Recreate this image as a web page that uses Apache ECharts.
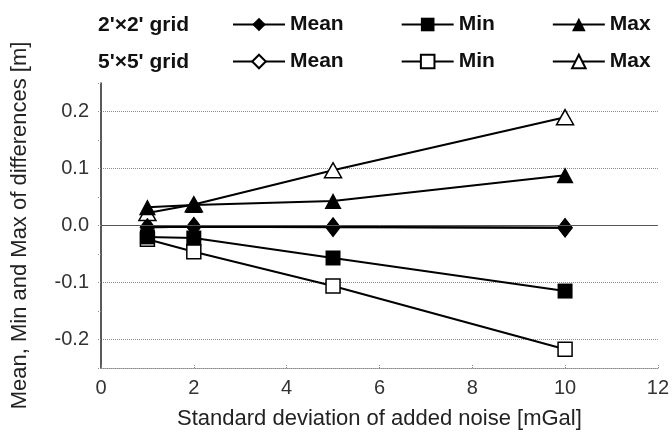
<!DOCTYPE html>
<html>
<head>
<meta charset="utf-8">
<script src="https://cdn.jsdelivr.net/npm/echarts@6/dist/echarts.min.js"></script>
<style>
  html, body { margin: 0; padding: 0; background: #fff; }
  #chart { width: 672px; height: 435px; }
</style>
</head>
<body>
<div id="chart"></div>
<script>
// Noise levels (mGal) at which the differences were evaluated
const noiseLevels = [1, 2, 5, 10];

// 2'x2' grid: mean, min and max of differences [m]
const mean2 = [-0.003, -0.002, -0.002, -0.004];
const min2  = [-0.020, -0.022, -0.057, -0.115];
const max2  = [0.032, 0.036, 0.043, 0.088];

// 5'x5' grid: mean, min and max of differences [m]
const mean5 = [-0.003, -0.002, -0.003, -0.004];
const min5  = [-0.024, -0.046, -0.106, -0.217];
const max5  = [0.022, 0.037, 0.097, 0.190];

// Axis ticks
const xTicks = [0, 2, 4, 6, 8, 10, 12];
const yLabelled = [-0.2, -0.1, 0.0, 0.1, 0.2];
const yGridlines = [-0.25, -0.2, -0.1, 0.1, 0.2];

const FONT = '"Liberation Sans", Arial, Helvetica, sans-serif';

function pairs(ys) {
  return noiseLevels.map((x, i) => [x, ys[i]]);
}

function makeSeries(name, ys, symbol, size, filled) {
  return {
    name: name,
    type: 'line',
    data: pairs(ys),
    symbol: symbol,
    symbolSize: size,
    showAllSymbol: true,
    lineStyle: { color: '#000', width: 2 },
    itemStyle: {
      color: filled ? '#000' : '#fff',
      borderColor: '#000',
      borderWidth: filled ? 0 : 1.5
    },
    emphasis: { disabled: true },
    animation: false
  };
}

const near = (a, b) => Math.abs(a - b) < 1e-6;

// Split-line colours per tick (ticks run from -0.25 to 0.25 every 0.05)
const yTickValues = [];
for (let k = -5; k <= 5; k++) yTickValues.push(k * 0.05);
const splitColors = yTickValues.map(v =>
  yGridlines.some(g => near(g, v)) ? '#8a8a8a' : 'rgba(0,0,0,0)');

const series = [
  // coarse grid first so the fine-grid markers sit on top
  makeSeries("5'×5' Mean", mean5, 'diamond', [14, 18], false),
  makeSeries("5'×5' Min", min5, 'rect', 14, false),
  makeSeries("5'×5' Max", max5, 'triangle', [17, 15], false),
  makeSeries("2'×2' Mean", mean2, 'diamond', [15, 19], true),
  makeSeries("2'×2' Min", min2, 'rect', 15, true),
  makeSeries("2'×2' Max", max2, 'triangle', [17, 16], true)
];

// zero reference line
series[0].markLine = {
  silent: true,
  symbol: 'none',
  label: { show: false },
  lineStyle: { color: '#555', type: 'solid', width: 1 },
  data: [{ yAxis: 0 }],
  animation: false
};

const legendCommon = {
  left: 227,
  itemGap: 57,
  itemWidth: 52,
  itemHeight: 17,
  textStyle: { fontFamily: FONT, fontSize: 21, fontWeight: 'bold', color: '#111' },
  formatter: name => name.split(' ')[1],
  selectedMode: false
};

const option = {
  backgroundColor: '#fff',
  animation: false,
  textStyle: { fontFamily: FONT },
  graphic: [
    { type: 'text', left: 98, top: 15,
      style: { text: "2'×2' grid", font: 'bold 21px ' + FONT, fill: '#111' } },
    { type: 'text', left: 98, top: 52,
      style: { text: "5'×5' grid", font: 'bold 21px ' + FONT, fill: '#111' } }
  ],
  legend: [
    Object.assign({}, legendCommon, {
      top: 9,
      data: ["2'×2' Mean", "2'×2' Min", "2'×2' Max"]
    }),
    Object.assign({}, legendCommon, {
      top: 46,
      data: ["5'×5' Mean", "5'×5' Min", "5'×5' Max"]
    })
  ],
  grid: { left: 101, right: 12, top: 83, bottom: 65, containLabel: false },
  xAxis: {
    type: 'value',
    min: xTicks[0],
    max: xTicks[xTicks.length - 1],
    interval: 2,
    name: 'Standard deviation of added noise [mGal]',
    nameLocation: 'middle',
    nameGap: 40,
    nameTextStyle: { fontSize: 22, color: '#222', fontFamily: FONT },
    axisLine: { onZero: false, lineStyle: { color: '#8a8a8a', type: 'dotted', width: 1 } },
    axisTick: { show: true, inside: true, length: 4, lineStyle: { color: '#8a8a8a', type: 'dotted' } },
    axisLabel: { fontSize: 20, color: '#333', margin: 10, fontFamily: FONT,
                 formatter: v => String(v) },
    splitLine: { show: false }
  },
  yAxis: {
    type: 'value',
    min: -0.25,
    max: 0.25,
    interval: 0.05,
    name: 'Mean, Min and Max of differences [m]',
    nameLocation: 'middle',
    nameRotate: 90,
    nameGap: 70,
    nameTextStyle: { fontSize: 22, color: '#222', fontFamily: FONT },
    axisLine: { show: true, lineStyle: { color: '#222', width: 1.5 } },
    axisTick: { show: true, length: 4, lineStyle: { color: '#8a8a8a', type: 'dotted' } },
    axisLabel: {
      fontSize: 20, color: '#333', margin: 12, fontFamily: FONT,
      formatter: v => {
        const hit = yLabelled.find(t => near(t, v));
        return hit === undefined ? '' : hit.toFixed(1);
      }
    },
    splitLine: {
      show: true,
      lineStyle: { color: splitColors, type: 'dotted', width: 1 }
    }
  },
  series: series
};

const chart = echarts.init(document.getElementById('chart'), null, { renderer: 'canvas' });
chart.setOption(option);
</script>
</body>
</html>
